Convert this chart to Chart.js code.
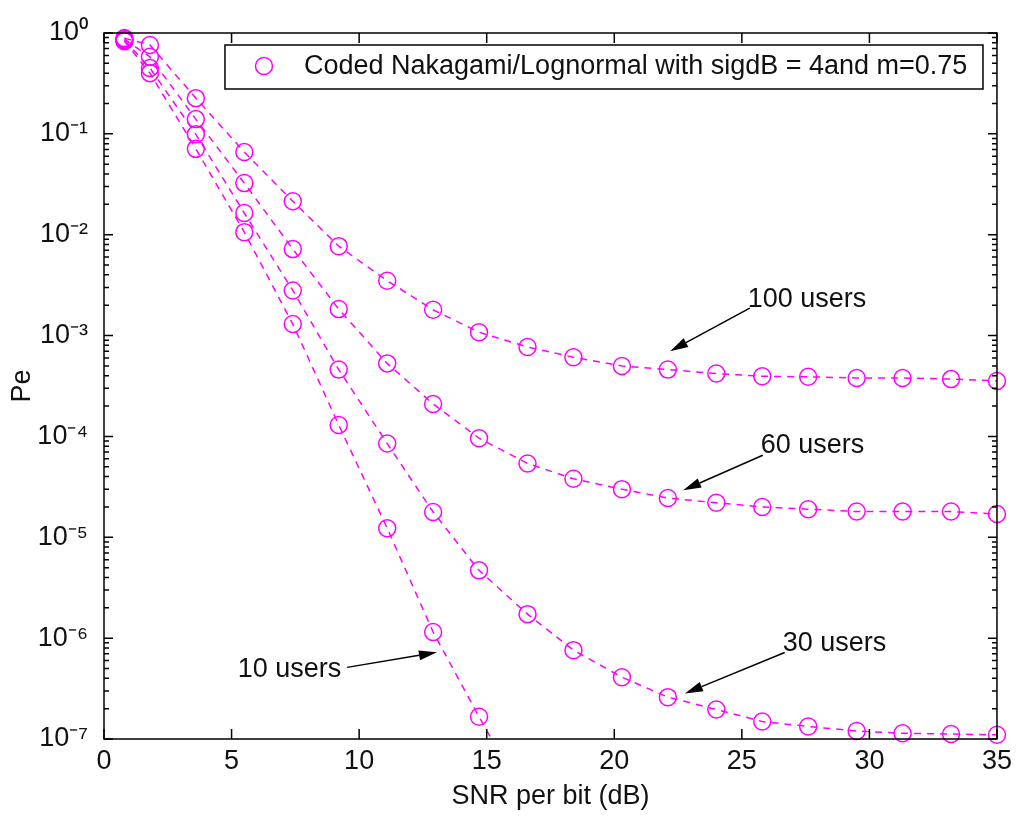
<!DOCTYPE html>
<html><head><meta charset="utf-8">
<script src="https://cdn.jsdelivr.net/npm/chart.js@4"></script>
<style>html,body{margin:0;padding:0;background:#fff;overflow:hidden}canvas{display:block}</style>
</head><body>
<canvas id="c" width="1018" height="816"></canvas>
<script>
// ---- data ----
const snr   = [0.8, 1.8, 3.6, 5.5, 7.4, 9.2, 11.1, 12.9, 14.7, 16.6, 18.4, 20.3, 22.1, 24.0, 25.8, 27.6, 29.5, 31.3, 33.2, 35.0];
const pe100 = [0.89, 0.76, 0.226, 0.066, 0.0215, 0.0077, 0.0035, 0.0018, 0.00108, 0.00077, 0.00061, 0.00050, 0.00046, 0.00042, 0.000395, 0.00039, 0.00038, 0.00038, 0.00037, 0.000355];
const pe60  = [0.87, 0.58, 0.14, 0.0325, 0.0072, 0.00183, 0.00053, 0.00021, 0.000096, 0.000054, 0.000038, 0.000030, 0.0000245, 0.000022, 0.000020, 0.000019, 0.000018, 0.000018, 0.000018, 0.000017];
const pe30  = [0.85, 0.45, 0.099, 0.0164, 0.0028, 0.00046, 0.000085, 0.0000178, 0.0000047, 0.00000173, 7.6e-7, 4.1e-7, 2.6e-7, 1.96e-7, 1.49e-7, 1.33e-7, 1.2e-7, 1.14e-7, 1.12e-7, 1.1e-7];
const pe10  = [0.83, 0.40, 0.071, 0.0106, 0.0013, 0.00013, 0.0000123, 0.00000115, 1.66e-7, 2.3e-8];
const xTicks = [0, 5, 10, 15, 20, 25, 30, 35];
const yTicks = [1e-7, 1e-6, 1e-5, 1e-4, 1e-3, 1e-2, 1e-1, 1];
const legendLabel = 'Coded Nakagami/Lognormal with sigdB = 4and m=0.75';
const xTitle = 'SNR per bit (dB)';
const yTitle = 'Pe';
// annotation anchors in data coordinates: text point, arrow start, arrow tip
const notes = [
  {text: '100 users', tx: 25.23, ty: 2.3e-3,  sx: 25.31, sy: 1.87e-3, hx: 22.19, hy: 7.0e-4,  align: 'left'},
  {text: '60 users',  tx: 25.74, ty: 8.2e-5,  sx: 25.82, sy: 6.5e-5,  hx: 22.70, hy: 2.93e-5, align: 'left'},
  {text: '30 users',  tx: 26.60, ty: 8.9e-7,  sx: 26.68, sy: 7.2e-7,  hx: 22.77, hy: 2.83e-7, align: 'left'},
  {text: '10 users',  tx: 9.30,  ty: 4.9e-7,  sx: 9.53,  sy: 5.13e-7, hx: 13.05, hy: 7.23e-7, align: 'right'}
];

const MAG = '#FF00FF';
const FONT = "'Liberation Sans', Arial, sans-serif";
const FS = 27;
const SUP = {'0':'⁰','1':'¹','2':'²','3':'³','4':'⁴','5':'⁵','6':'⁶','7':'⁷','8':'⁸','9':'⁹','-':'⁻'};
const supStr = s => String(s).split('').map(c => SUP[c] || c).join('');

function ds(label, ys, extra) {
  return Object.assign({
    label: label,
    data: ys.map((v, i) => ({x: snr[i], y: v})),
    borderColor: MAG, borderWidth: 1.5, borderDash: [7, 6],
    pointStyle: 'circle', pointRadius: 8.5, pointBorderWidth: 1.5,
    pointBorderColor: MAG, pointBackgroundColor: 'rgba(0,0,0,0)',
    fill: false, tension: 0, clip: false
  }, extra || {});
}

const frame = {
  id: 'frame',
  afterDraw(chart) {
    const {ctx, chartArea: a, scales: {x, y}} = chart;
    ctx.save();
    ctx.strokeStyle = '#000'; ctx.lineWidth = 1.5;
    ctx.strokeRect(a.left, a.top, a.right - a.left, a.bottom - a.top);
    ctx.beginPath();
    xTicks.forEach(v => {
      const px = x.getPixelForValue(v);
      ctx.moveTo(px, a.bottom); ctx.lineTo(px, a.bottom - 10);
      ctx.moveTo(px, a.top); ctx.lineTo(px, a.top + 10);
    });
    for (let e = -7; e <= 0; e++) {
      for (let k = 1; k <= 9; k++) {
        if (e === 0 && k > 1) break;
        const py = y.getPixelForValue(k * Math.pow(10, e));
        const L = k === 1 ? 9 : 5;
        ctx.moveTo(a.left, py); ctx.lineTo(a.left + L, py);
        ctx.moveTo(a.right, py); ctx.lineTo(a.right - L, py);
      }
    }
    ctx.stroke();

    // legend box
    const lw = 758, lh = 44;
    const lx = a.right - 14 - lw, ly = a.top + 12;
    ctx.fillStyle = '#fff';
    ctx.fillRect(lx, ly, lw, lh);
    ctx.strokeRect(lx, ly, lw, lh);
    ctx.strokeStyle = MAG; ctx.lineWidth = 1.5;
    ctx.beginPath(); ctx.arc(lx + 39, ly + 21, 8.5, 0, Math.PI * 2); ctx.stroke();
    ctx.fillStyle = '#111';
    ctx.font = FS + 'px ' + FONT;
    ctx.textBaseline = 'middle'; ctx.textAlign = 'left';
    ctx.fillText(chart.data.datasets[0].label, lx + 79, ly + 22);

    // annotations
    ctx.strokeStyle = '#000'; ctx.fillStyle = '#111'; ctx.lineWidth = 1.5;
    notes.forEach(n => {
      const tx = x.getPixelForValue(n.tx), ty = y.getPixelForValue(n.ty);
      const sx = x.getPixelForValue(n.sx), sy = y.getPixelForValue(n.sy);
      const hx = x.getPixelForValue(n.hx), hy = y.getPixelForValue(n.hy);
      ctx.textAlign = n.align;
      ctx.fillText(n.text, tx, ty);
      const ang = Math.atan2(hy - sy, hx - sx);
      const len = 18, hw = 5;
      const bx = hx - len * Math.cos(ang), by = hy - len * Math.sin(ang);
      ctx.beginPath(); ctx.moveTo(sx, sy); ctx.lineTo(bx, by); ctx.stroke();
      ctx.beginPath();
      ctx.moveTo(hx, hy);
      ctx.lineTo(bx + hw * Math.sin(ang), by - hw * Math.cos(ang));
      ctx.lineTo(bx - hw * Math.sin(ang), by + hw * Math.cos(ang));
      ctx.closePath(); ctx.fillStyle = '#000'; ctx.fill(); ctx.fillStyle = '#111';
    });
    ctx.restore();
  }
};

new Chart(document.getElementById('c'), {
  type: 'line',
  data: {
    datasets: [
      ds(legendLabel, pe100),
      ds('60 users', pe60),
      ds('30 users', pe30),
      ds('10 users', pe10, {clip: {left: false, top: false, right: false, bottom: 0}})
    ]
  },
  options: {
    responsive: false, animation: false, events: [],
    layout: {padding: {left: 0, right: 18, top: 33, bottom: 0}},
    plugins: {legend: {display: false}, tooltip: {enabled: false}},
    scales: {
      x: {
        type: 'linear', min: 0, max: 35,
        afterBuildTicks: s => { s.ticks = xTicks.map(v => ({value: v})); },
        afterFit: s => { s.height = 77; },
        grid: {display: false, drawTicks: false}, border: {display: false},
        ticks: {font: {family: FONT, size: FS}, color: '#111', padding: 6, maxRotation: 0},
        title: {display: true, text: xTitle, font: {family: FONT, size: FS}, color: '#111', padding: {top: 0, bottom: 3}}
      },
      y: {
        type: 'logarithmic', min: 1e-7, max: 1,
        afterBuildTicks: s => { s.ticks = yTicks.map(v => ({value: v})); },
        afterFit: s => { s.width = 104; },
        grid: {display: false, drawTicks: false}, border: {display: false},
        ticks: {
          font: {family: FONT, size: FS}, color: '#111', padding: 16, autoSkip: false,
          callback: v => '10' + supStr(Math.round(Math.log10(v)))
        },
        title: {display: true, text: yTitle, font: {family: FONT, size: FS}, color: '#111', padding: {top: 6, bottom: 0}}
      }
    }
  },
  plugins: [frame]
});
</script>
</body></html>
